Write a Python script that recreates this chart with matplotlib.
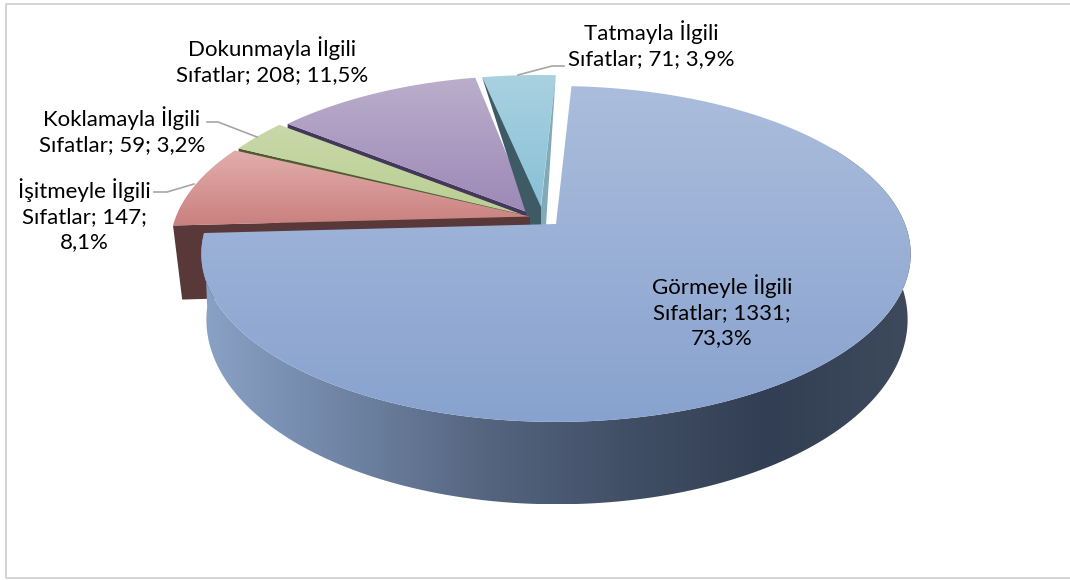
import numpy as np
import matplotlib
matplotlib.use('Agg')
import matplotlib.pyplot as plt
from matplotlib.patches import Polygon
from matplotlib.colors import LinearSegmentedColormap

plt.rcParams['font.family'] = ['Lato', 'DejaVu Sans']

names = ["Görmeyle", "İşitmeyle", "Koklamayla", "Dokunmayla", "Tatmayla"]
values = [1331, 147, 59, 208, 71]
labels = [
    "Görmeyle İlgili\nSıfatlar; 1331;\n73,3%",
    "İşitmeyle İlgili\nSıfatlar; 147;\n8,1%",
    "Koklamayla İlgili\nSıfatlar; 59; 3,2%",
    "Dokunmayla İlgili\nSıfatlar; 208; 11,5%",
    "Tatmayla İlgili\nSıfatlar; 71; 3,9%",
]

# pixel layout of the tilted, exploded pie
start_angle = 3.0
apex = {"Görmeyle": (556, 224), "İşitmeyle": (530, 216.5), "Koklamayla": (522, 214.5),
        "Dokunmayla": (531, 213.5), "Tatmayla": (540, 213)}
widths = {"Görmeyle": 349, "İşitmeyle": 354, "Koklamayla": 340, "Dokunmayla": 341, "Tatmayla": 354}
label_pos = {"Görmeyle": (722, 311), "İşitmeyle": (84, 215), "Koklamayla": (122, 131),
             "Dokunmayla": (272, 61), "Tatmayla": (651, 45)}
top_colors = {"Görmeyle": ("#abbddc", "#88a2cf"), "İşitmeyle": ("#e2aeac", "#c9807e"),
              "Koklamayla": ("#c9d8aa", "#b9cf92"), "Dokunmayla": ("#bbaecb", "#9d88b7"),
              "Tatmayla": ("#a9d1e0", "#87c0d6")}
wall_colors = {"İşitmeyle": "#583838", "Koklamayla": "#4c5c2e", "Dokunmayla": "#43375a",
               "Tatmayla": "#3e5b65"}

leaders = [
    ([154, 167, 194], [192, 192, 184]),
    ([207, 218, 257], [122, 122, 137]),
    ([518, 552, 564], [75, 66, 66]),
]

fig = plt.figure(figsize=(10.7, 5.8), dpi=100)
ax = fig.add_axes([0, 0, 1, 1])
ax.set_xlim(0, 1070)
ax.set_ylim(580, 0)
ax.axis('off')


def rim(theta, origin, lower=False, width=354):
    t = np.radians(theta)
    x, y = np.sin(t), np.cos(t)
    if lower:
        s = 1 / (1 + 0.122 * y)
        return origin[0] + width * x * s, origin[1] + 73 - 182 * y * s
    s = 1 / (1 + 0.1784 * y)
    return origin[0] + width * x * s, origin[1] - 162.6 * y * s


def arc(a, b, origin, lower=False, width=354):
    t = np.linspace(a, b, 200)
    return np.column_stack(rim(t, origin, lower, width))


def gradient_fill(pts, colors, horizontal=False, z=1):
    poly = Polygon(pts, closed=True, fc='none', ec='none', zorder=z)
    ax.add_patch(poly)
    xs, ys = pts[:, 0], pts[:, 1]
    cmap = LinearSegmentedColormap.from_list('g', colors)
    if horizontal:
        grad = np.linspace(0, 1, 256).reshape(1, -1)
    else:
        grad = np.linspace(0, 1, 256).reshape(-1, 1)
    im = ax.imshow(grad, cmap=cmap, extent=(xs.min(), xs.max(), ys.max(), ys.min()),
                   aspect='auto', zorder=z, interpolation='bilinear')
    im.set_clip_path(poly)


ax.set_xlim(0, 1070)
ax.set_ylim(580, 0)

edges = start_angle + np.concatenate([[0], np.cumsum(values)]) / sum(values) * 360
spans = {n: (edges[i], edges[i + 1]) for i, n in enumerate(names)}

# chart frame, the right side runs off the picture
ax.plot([1070, 6, 6, 1070], [4, 4, 578, 578], color='#d4d4d4', lw=1.4, zorder=0)

# Tatmayla: tapered dark wall and the paler inner wall on top of its face
a, b = spans["Tatmayla"]
o = apex["Tatmayla"]
gradient_fill(np.vstack([[o], arc(a, b, o)]), top_colors["Tatmayla"], z=2)
ax.add_patch(Polygon([rim(b, o), (546, 225), (541, 225), (541, 207)], fc='#7fabb9', ec='none', zorder=3))

# the other slices, back to front
for i, n in enumerate(["Dokunmayla", "Koklamayla", "İşitmeyle"]):
    a, b = spans[n]
    o = apex[n]
    w = widths[n]
    z = 4 + 2 * i
    wall = np.array([rim(a, o, width=w), o, (o[0], o[1] + 73), rim(a, o, True, w - 8)])
    ax.add_patch(Polygon(wall, fc=wall_colors[n], ec='none', zorder=z))
    gradient_fill(np.vstack([[o], arc(a, b, o, width=w)]), top_colors[n], z=z + 1)
    if n == "Dokunmayla":
        a2 = spans["Tatmayla"][0]
        o2 = apex["Tatmayla"]
        ax.add_patch(Polygon([rim(a2, o2), (541, 207), (541, 226), (530, 226)],
                             fc=wall_colors["Tatmayla"], ec='none', zorder=z + 1.5))

# main slice: side wall, then its face
a, b = spans["Görmeyle"]
o = apex["Görmeyle"]
w = widths["Görmeyle"]
side = np.vstack([arc(60, b, o, width=w), arc(60, b, (o[0] + 1, o[1]), True, w - 1)[::-1]])
gradient_fill(side, ["#8aa2c6", "#6f84a5", "#55657f", "#414f66", "#323e53", "#3e4a5c"], horizontal=True, z=12)
gradient_fill(np.vstack([[o], arc(a, b, o, width=w)]), top_colors["Görmeyle"], z=13)

for xs, ys in leaders:
    ax.plot(xs, ys, color='#a6a6a6', lw=1.2, zorder=14)

for n, lab in zip(names, labels):
    x, y = label_pos[n]
    ax.text(x, y, lab, ha='center', va='center', fontsize=16, color='black',
            linespacing=1.32, zorder=15)

fig.savefig('out.png', dpi=100, facecolor='white')
